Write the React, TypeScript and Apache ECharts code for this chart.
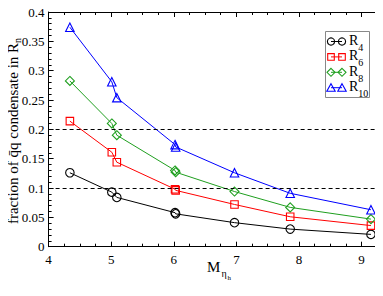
import React, { useEffect, useRef } from "react";
import * as echarts from "echarts";

const massX = [4.34, 5.01, 5.09, 6.02, 6.03, 6.97, 7.86, 9.15];
const r4 = [0.126, 0.093, 0.084, 0.058, 0.056, 0.041, 0.030, 0.021];
const r6 = [0.214, 0.161, 0.144, 0.098, 0.096, 0.072, 0.051, 0.036];
const r8 = [0.2825, 0.210, 0.190, 0.130, 0.127, 0.094, 0.067, 0.047];
const r10 = [0.374, 0.281, 0.254, 0.174, 0.170, 0.126, 0.091, 0.063];
const refLines = [0.1, 0.2];
const seriesNames = ["R4", "R6", "R8", "R10"];
const subs = ["4", "6", "8", "10"];
const colors = ["#000000", "#ff0000", "#1f9f1f", "#0000ff"];
const symbols = ["circle", "rect", "diamond", "triangle"];
const yTitle = "fraction of q\u0304q condensate in R";
const yTitleSub = "n";

const FONT = "Liberation Serif";

export default function App() {
  const ref = useRef<HTMLDivElement>(null);
  useEffect(() => {
    if (!ref.current) return;
    const chart = echarts.init(ref.current, null, { renderer: "svg" });
    const all = [r4, r6, r8, r10];
    const sizes = [8.5, 7.5, 9, 8.5];
    const series: any[] = all.map((vals, i) => ({
      name: seriesNames[i],
      type: "line",
      data: vals.map((v, j) => [massX[j], v]),
      symbol: symbols[i],
      symbolSize: sizes[i],
      showAllSymbol: true,
      lineStyle: { color: colors[i], width: 1 },
      itemStyle: { color: "transparent", borderColor: colors[i], borderWidth: 1.1 },
      emphasis: { disabled: true },
      z: 3,
      markLine:
        i === 0
          ? {
              silent: true,
              symbol: "none",
              label: { show: false },
              lineStyle: { color: "#000", type: [4, 3], width: 1 },
              data: refLines.map((y) => ({ yAxis: y })),
            }
          : undefined,
    }));

    const g: any[] = [];
    const lx1 = 331, lx2 = 342, ly0 = 41.5, dy = 15.4;
    g.push({
      type: "rect",
      shape: { x: 325.5, y: 31.5, width: 44, height: 66 },
      style: { fill: "#fff", stroke: "#888", lineWidth: 1 },
      z: 10,
    });
    symbols.forEach((s, i) => {
      const y = ly0 + i * dy;
      const st = { fill: "none", stroke: colors[i], lineWidth: 1.1 };
      g.push({
        type: "line",
        shape: { x1: lx1, y1: y, x2: lx2, y2: y },
        style: { stroke: colors[i], lineWidth: 1 },
        z: 11,
      });
      [lx1, lx2].forEach((cx) => {
        if (s === "circle") {
          g.push({ type: "circle", shape: { cx, cy: y, r: 3.6 }, style: st, z: 12 });
        } else if (s === "rect") {
          g.push({ type: "rect", shape: { x: cx - 3.3, y: y - 3.3, width: 6.6, height: 6.6 }, style: st, z: 12 });
        } else if (s === "diamond") {
          g.push({
            type: "polygon",
            shape: { points: [[cx, y - 4], [cx + 4, y], [cx, y + 4], [cx - 4, y]] },
            style: st,
            z: 12,
          });
        } else {
          g.push({
            type: "polygon",
            shape: { points: [[cx, y - 4], [cx + 4.2, y + 3.5], [cx - 4.2, y + 3.5]] },
            style: st,
            z: 12,
          });
        }
      });
      g.push({
        type: "text",
        x: 349,
        y: y - 8,
        style: {
          text: "{a|R}{b|" + subs[i] + "}",
          rich: {
            a: { fontFamily: FONT, fontSize: 14, fill: "#000", verticalAlign: "top" },
            b: { fontFamily: FONT, fontSize: 10, fill: "#000", padding: [9, 0, 0, 0] },
          },
        },
        z: 12,
      });
    });

    // x-axis title M_{eta_h}
    g.push({ type: "text", x: 207, y: 259, style: { text: "M", fontFamily: FONT, fontSize: 15, fill: "#000" }, z: 12 });
    g.push({ type: "text", x: 221.5, y: 268, style: { text: "η", fontFamily: FONT, fontSize: 10, fill: "#000" }, z: 12 });
    g.push({ type: "text", x: 227.5, y: 274, style: { text: "h", fontFamily: FONT, fontSize: 7, fill: "#000" }, z: 12 });

    // y-axis title
    g.push({
      type: "text",
      x: 13,
      y: 131,
      rotation: Math.PI / 2,
      style: {
        text: "{t|" + yTitle + "}{n|" + yTitleSub + "}",
        align: "center",
        verticalAlign: "middle",
        rich: {
          t: { fontFamily: FONT, fontSize: 15, fill: "#000" },
          n: { fontFamily: FONT, fontSize: 10, fill: "#000", padding: [9, 0, 0, 0] },
        },
      },
      z: 12,
    });

    const tickLabel = { fontFamily: FONT, fontSize: 13, color: "#000" };
    chart.setOption({
      animation: false,
      grid: { left: 48.6, top: 12, width: 338, height: 234.7, containLabel: false, outerBoundsMode: "none" },
      xAxis: [
        {
          type: "value",
          min: 4,
          max: 9.4,
          interval: 1,
          position: "bottom",
          axisLine: { show: true, lineStyle: { color: "#000", width: 1 } },
          axisTick: { show: true, inside: true, length: 5, lineStyle: { color: "#000" } },
          minorTick: { show: true, splitNumber: 4, length: 3, lineStyle: { color: "#000" } },
          splitLine: { show: false },
          axisLabel: { ...tickLabel, margin: 6, showMaxLabel: false },
        },
        {
          type: "value",
          min: 4,
          max: 9.4,
          interval: 1,
          position: "top",
          axisLine: { show: true, lineStyle: { color: "#000", width: 1 } },
          axisTick: { show: true, inside: true, length: 5, lineStyle: { color: "#000" } },
          minorTick: { show: true, splitNumber: 4, length: 3, lineStyle: { color: "#000" } },
          splitLine: { show: false },
          axisLabel: { show: false },
        },
      ],
      yAxis: [
        {
          type: "value",
          min: 0,
          max: 0.4,
          interval: 0.05,
          axisLine: { show: true, lineStyle: { color: "#000", width: 1 } },
          axisTick: { show: true, inside: true, length: 5, lineStyle: { color: "#000" } },
          minorTick: { show: true, splitNumber: 5, length: 3, lineStyle: { color: "#000" } },
          splitLine: { show: false },
          axisLabel: { ...tickLabel, margin: 4 },
        },
      ],
      series,
      graphic: g,
    });
    return () => chart.dispose();
  }, []);
  return <div ref={ref} style={{ width: 383, height: 296, margin: -8 }} />;
}
